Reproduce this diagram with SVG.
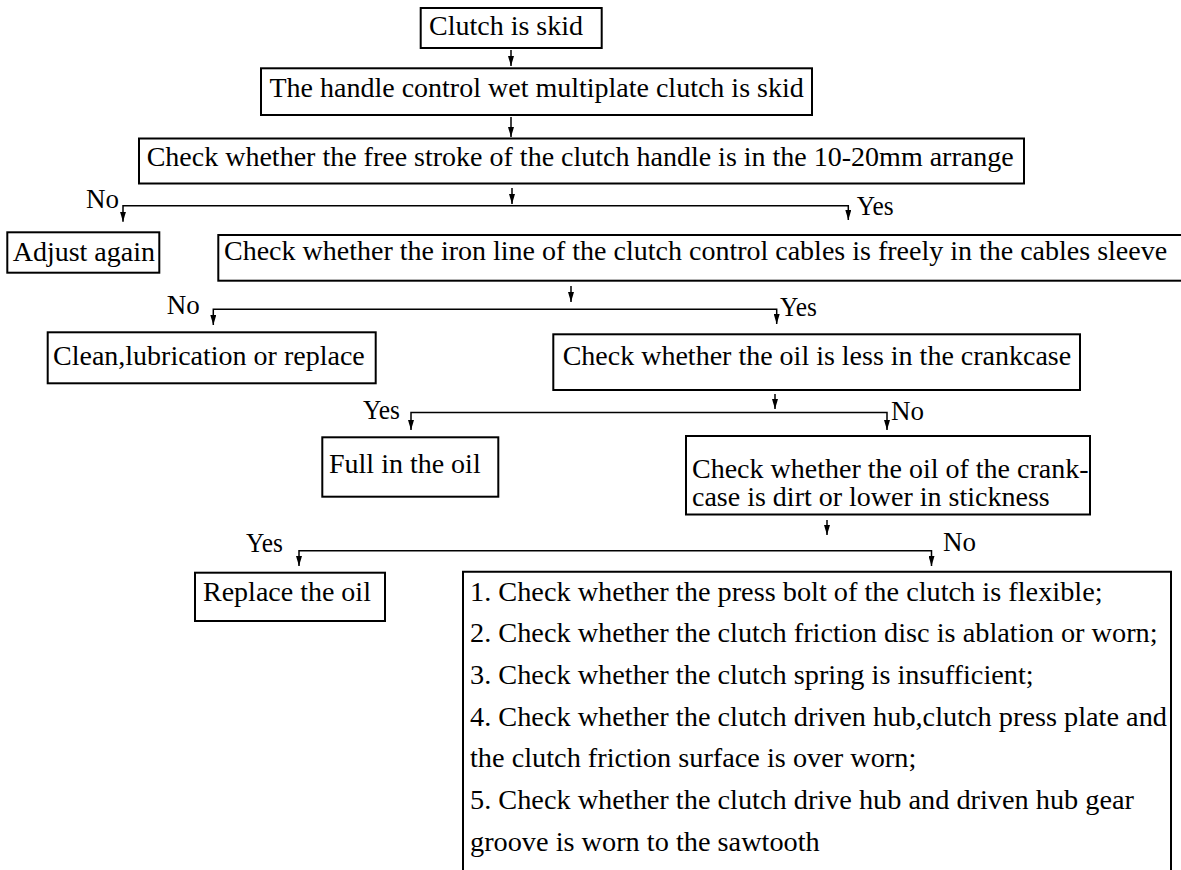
<svg xmlns="http://www.w3.org/2000/svg" width="1181" height="870" viewBox="0 0 1181 870">
<defs>
<style>
.box{fill:none;stroke:#000;stroke-width:2}
.t{font-family:"Liberation Serif","Times New Roman",serif;font-size:28px;fill:#000}
.b{font-size:28.3px}
.lb{font-family:"Liberation Serif","Times New Roman",serif;font-size:27px;fill:#000}
.c{fill:none;stroke:#000;stroke-width:1.5}
</style>
<marker id="ah" viewBox="0 0 10 6" refX="10" refY="3" markerWidth="10" markerHeight="6" orient="auto" markerUnits="userSpaceOnUse">
<path d="M0,0 L10,3 L0,6 z" fill="#000"/>
</marker>
</defs>
<rect width="1181" height="870" fill="#fff"/>
<g id="n1"><rect class="box" x="420.7" y="8" width="181" height="40"/><text class="t" x="429" y="35">Clutch is skid</text></g>
<g id="n2"><rect class="box" x="261" y="68.3" width="551" height="46.7"/><text class="t" x="269.5" y="97">The handle control wet multiplate clutch is skid</text></g>
<g id="n3"><rect class="box" x="139" y="138.5" width="885" height="45"/><text class="t" x="146.7" y="165.5">Check whether the free stroke of the clutch handle is in the 10-20mm arrange</text></g>
<g id="n4"><rect class="box" x="7.3" y="232.3" width="152" height="40.4"/><text class="t" x="12.7" y="261">Adjust again</text></g>
<g id="n5"><rect class="box" x="218.3" y="235" width="975" height="45.7"/><text class="t" x="224" y="260">Check whether the iron line of the clutch control cables is freely  in the cables sleeve</text></g>
<g id="n6"><rect class="box" x="47.7" y="332.3" width="328" height="51"/><text class="t" x="53" y="365">Clean,lubrication or replace</text></g>
<g id="n7"><rect class="box" x="553.3" y="334.3" width="526.7" height="55.7"/><text class="t" x="562.7" y="365">Check whether the oil is less in the crankcase</text></g>
<g id="n8"><rect class="box" x="322.3" y="437.3" width="176" height="59.4"/><text class="t" x="329" y="472.7">Full in the oil</text></g>
<g id="n9"><rect class="box" x="686" y="436" width="404" height="78.5"/><text class="t" x="692" y="478">Check whether the oil of the crank-</text><text class="t" x="692" y="506">case is dirt or lower in stickness</text></g>
<g id="n10"><rect class="box" x="195" y="572.7" width="190" height="48.3"/><text class="t" x="203" y="600.7">Replace the oil</text></g>
<g id="n11"><path class="box" d="M463,880 V571.7 H1171 V880"/>
<text class="t b" x="470" y="600.7">1. Check whether the press bolt of the clutch is flexible;</text>
<text class="t b" x="470" y="642.3">2. Check whether the clutch friction disc is ablation or worn;</text>
<text class="t b" x="470" y="684">3. Check whether the clutch spring is insufficient;</text>
<text class="t b" x="470" y="725.7">4. Check whether the clutch driven hub,clutch press plate and</text>
<text class="t b" x="470" y="767.3">the clutch friction surface is over worn;</text>
<text class="t b" x="470" y="809">5. Check whether the clutch drive hub and driven hub gear</text>
<text class="t b" x="470" y="850.7">groove is worn to the sawtooth</text>
</g>
<g id="connectors">
<path class="c" d="M511,50 V66" marker-end="url(#ah)"/>
<path class="c" d="M511,117 V137" marker-end="url(#ah)"/>
<path class="c" d="M512,188 V204" marker-end="url(#ah)"/>
<path class="c" d="M512,205.7 H123 V221.7" marker-end="url(#ah)"/>
<path class="c" d="M512,205.7 H848.3 V220" marker-end="url(#ah)"/>
<path class="c" d="M571,286 V302" marker-end="url(#ah)"/>
<path class="c" d="M571,309.3 H213.3 V325" marker-end="url(#ah)"/>
<path class="c" d="M571,309.3 H776.7 V324" marker-end="url(#ah)"/>
<path class="c" d="M775,394 V409" marker-end="url(#ah)"/>
<path class="c" d="M775,412.5 H411 V430" marker-end="url(#ah)"/>
<path class="c" d="M775,412.5 H887 V430" marker-end="url(#ah)"/>
<path class="c" d="M827,520 V535" marker-end="url(#ah)"/>
<path class="c" d="M827,550.7 H299 V566" marker-end="url(#ah)"/>
<path class="c" d="M827,550.7 H931.5 V566" marker-end="url(#ah)"/>
</g>
<g id="labels">
<text class="lb" x="86" y="208">No</text>
<text class="lb" x="856.7" y="215" textLength="37" lengthAdjust="spacingAndGlyphs">Yes</text>
<text class="lb" x="166.7" y="314">No</text>
<text class="lb" x="780" y="316" textLength="37" lengthAdjust="spacingAndGlyphs">Yes</text>
<text class="lb" x="363" y="419" textLength="37" lengthAdjust="spacingAndGlyphs">Yes</text>
<text class="lb" x="891" y="420">No</text>
<text class="lb" x="246" y="551.7" textLength="37" lengthAdjust="spacingAndGlyphs">Yes</text>
<text class="lb" x="943" y="550.7">No</text>
</g>
</svg>
